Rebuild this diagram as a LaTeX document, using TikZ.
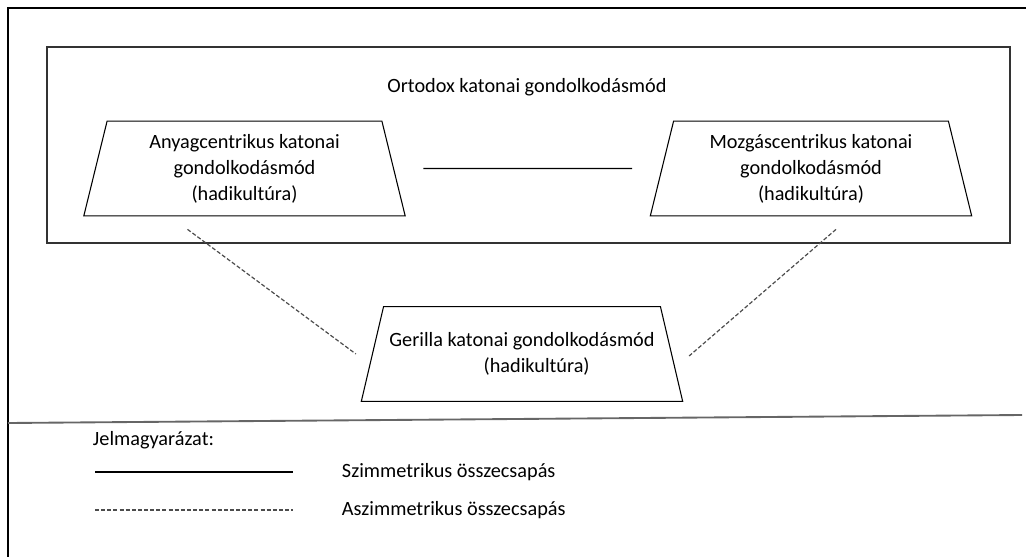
\documentclass[tikz,border=0pt]{standalone}
\usepackage{fontspec}
\setmainfont{Carlito}
\usepackage{tikz}
\usetikzlibrary{shapes.geometric,calc}

\begin{document}
\begin{tikzpicture}[x=0.75pt,y=-0.75pt, line width=0.8pt,
  font=\fontsize{15.2}{19.5}\selectfont,
  gondol/.style={trapezium, draw, trapezium angle=72, trapezium stretches body,
    minimum width=241pt, minimum height=71pt, inner sep=1pt, align=center},
  szaggat/.style={dash pattern=on 3pt off 1.6pt, gray!60!black, line width=0.9pt}]

\useasboundingbox (0,0) rectangle (1026,557);
\draw [line width=1.2pt] (8,557) -- (8,8) -- (1026,8);
\draw [line width=1.1pt,black!80] (47,47) rectangle (1010,243);
\draw [line width=1.4pt,gray!80!black] (8,423) -- (1022,415);

\node (ortodox) at (527,87) {Ortodox katonai gondolkodásmód};
\node[gondol] (anyag) at (244.5,168.5) {Anyagcentrikus katonai\\gondolkodásmód\\(hadikultúra)};
\node[gondol] (mozgas) at (811,168.5) {Mozgáscentrikus katonai\\gondolkodásmód\\(hadikultúra)};
\node[gondol, trapezium angle=64, inner xsep=0pt] (gerilla) at (522,354) {Gerilla katonai gondolkodásmód\\\hspace*{22pt}(hadikultúra)};

\draw [shorten <=22pt, shorten >=22pt] (anyag) -- (mozgas);
\draw [szaggat] ($(anyag.south)+(-57,13)$) -- ($(gerilla.west)+(-16,0)$);
\draw [szaggat] ($(mozgas.south)+(25,13)$) -- ($(gerilla.east)+(17,2)$);

\node[anchor=west] (jelm) at (88,440) {Jelmagyarázat:};
\draw (95,472) -- (293,472);
\node[anchor=west] (szimm) at (337,472) {Szimmetrikus összecsapás};
\draw [szaggat] (95,510) -- (293,510);
\node[anchor=west] (aszimm) at (337,510) {Aszimmetrikus összecsapás};

\end{tikzpicture}
\end{document}
